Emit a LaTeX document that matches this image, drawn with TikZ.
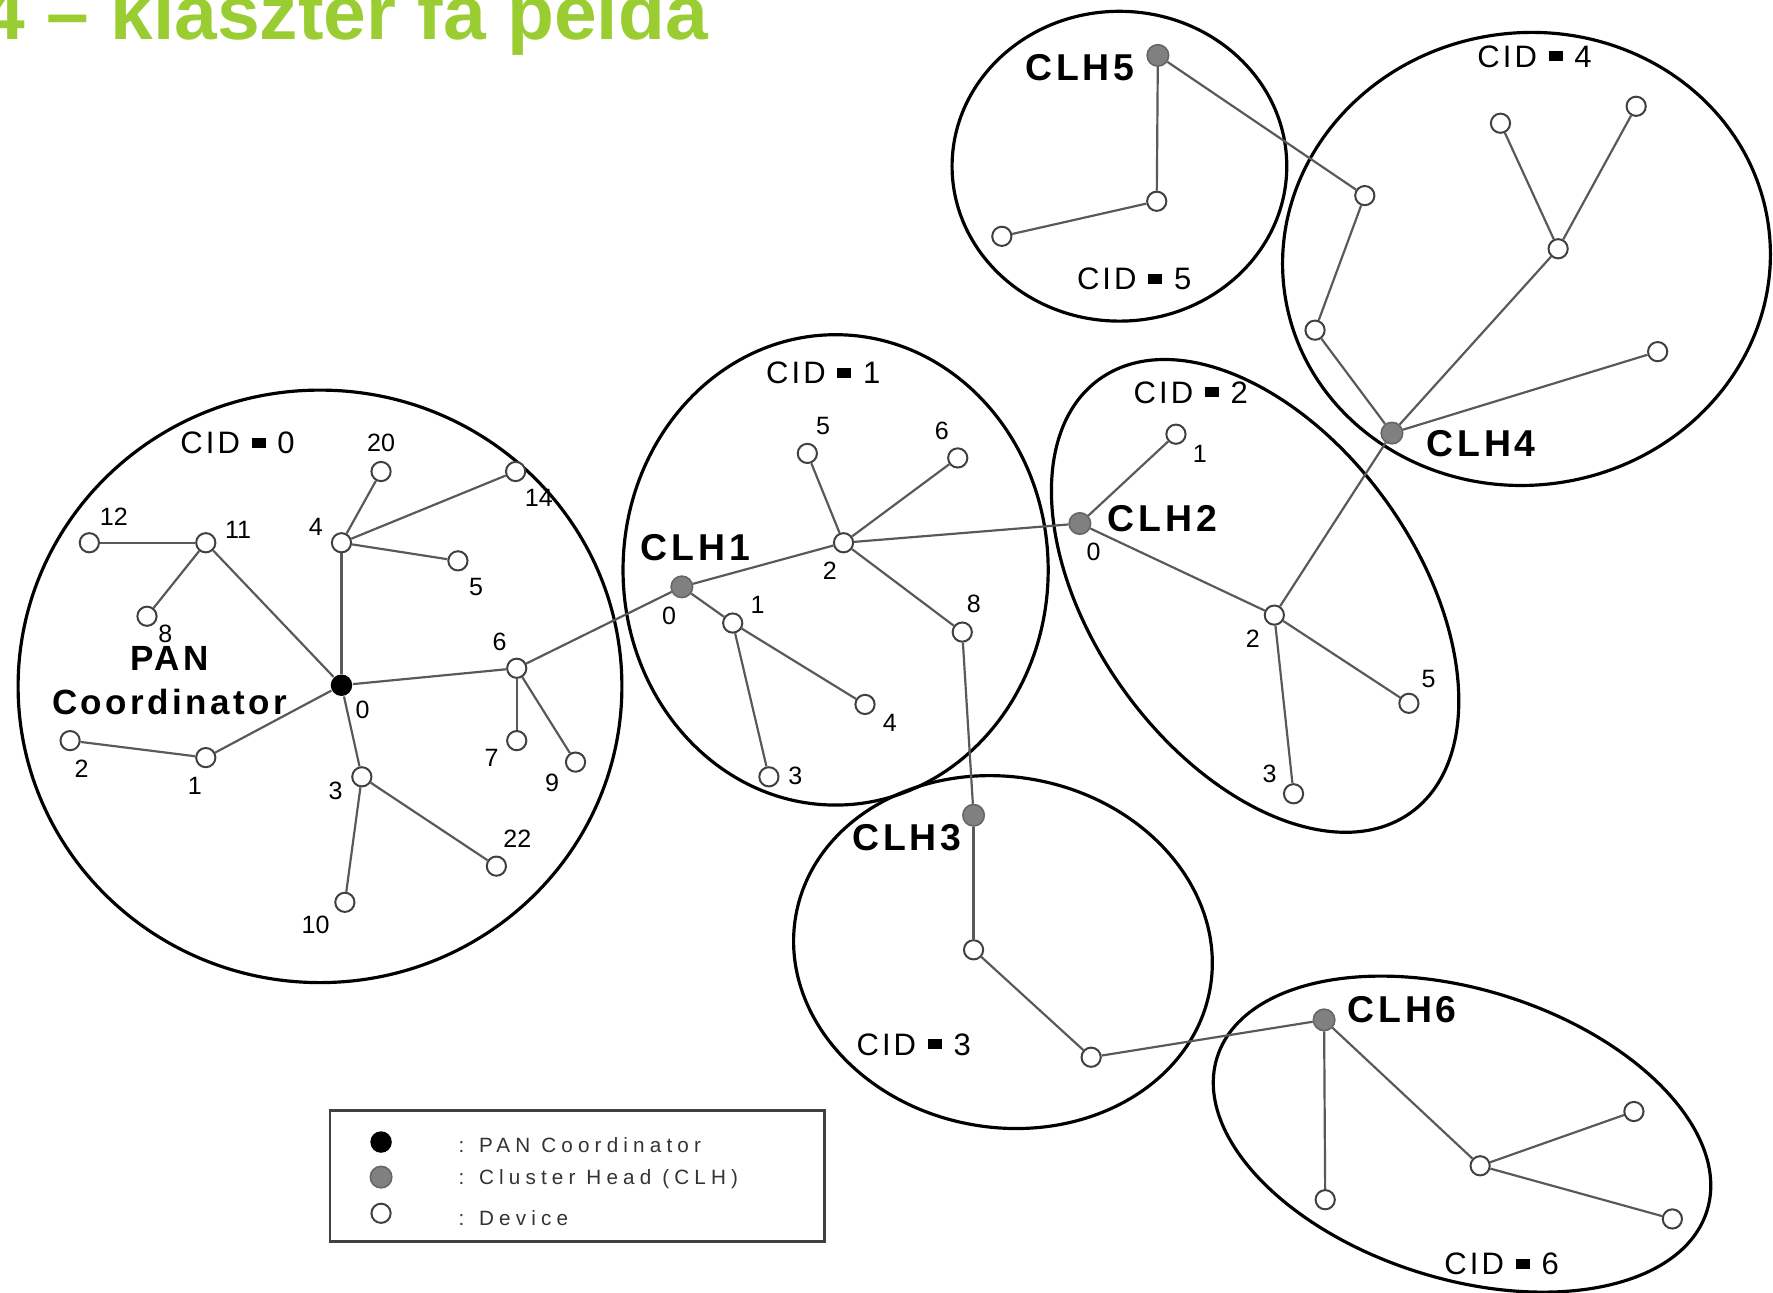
\documentclass[tikz,border=0pt]{standalone}
\usepackage{fontspec}
\setmainfont{Liberation Sans}
\newfontfamily\spacedfont[LetterSpace=10]{Liberation Sans}
\newfontfamily\widefont[LetterSpace=25]{Liberation Sans}
\definecolor{titlegreen}{RGB}{154,205,50}
\definecolor{clhgray}{RGB}{128,128,128}
\newcommand{\cideq}{\rule[0.2em]{0.45em}{0.32em}}

\begin{document}
\begin{tikzpicture}[x=0.01cm, y=-0.01cm,
    dev/.style={circle, draw=black!75, fill=white, line width=0.5pt, minimum size=0.17cm, inner sep=0pt},
    clh/.style={circle, draw=black!60, fill=clhgray, line width=0.4pt, minimum size=0.19cm, inner sep=0pt},
    pan/.style={circle, fill=black, minimum size=0.19cm, inner sep=0pt},
    num/.style={font=\fontsize{6.3}{7}\selectfont, inner sep=0.5pt},
    cid/.style={font=\spacedfont\fontsize{7.8}{9}\selectfont, inner sep=0pt},
    head/.style={font=\spacedfont\bfseries\fontsize{9.4}{11}\selectfont, inner sep=0pt},
    keytext/.style={font=\widefont\fontsize{5.2}{6}\selectfont, text=black!80, anchor=west, inner sep=0pt},
    link/.style={draw=black!65, line width=0.55pt},
    cluster/.style={draw=black, line width=0.8pt},
    every label/.style={num}, label distance=1.5pt]
    \useasboundingbox (0,0) rectangle (1568,1143);
    \node[anchor=base west, inner sep=0pt, text=titlegreen, font=\bfseries\fontsize{19.3}{22}\selectfont] (title) at (-16,35) {4 – klaszter fa példa};

    \draw[cluster] (283,607) ellipse (267 and 262);
    \draw[cluster] (739,504) ellipse (188 and 208);
    \draw[cluster, rotate around={35.7:(1110,527)}] (1110,527) ellipse (143 and 236);
    \draw[cluster, rotate around={8:(1350,229)}] (1350,229) ellipse (216 and 200);
    \draw[cluster] (990,147) ellipse (148 and 137);
    \draw[cluster, rotate around={-10:(887,842)}] (887,842) ellipse (186 and 155);
    \draw[cluster, rotate around={-17.4:(1293,1003)}] (1293,1003) ellipse (227 and 128);

    \node[cid] (cid0) at (210,392) {CID \cideq{} 0};
    \node[cid] (cid1) at (728,330) {CID \cideq{} 1};
    \node[cid] (cid2) at (1053,347) {CID \cideq{} 2};
    \node[cid] (cid3) at (808,924) {CID \cideq{} 3};
    \node[cid] (cid4) at (1357,50) {CID \cideq{} 4};
    \node[cid] (cid5) at (1003,247) {CID \cideq{} 5};
    \node[cid] (cid6) at (1328,1118) {CID \cideq{} 6};

    \node[head, align=center, font=\spacedfont\bfseries\fontsize{8.8}{11}\selectfont] (pantext) at (150,602) {PAN\\Coordinator};
    \node[head] (clh1text) at (615,484) {CLH1};
    \node[head] (clh2text) at (1028,459) {CLH2};
    \node[head] (clh3text) at (802,741) {CLH3};
    \node[head] (clh4text) at (1310,392) {CLH4};
    \node[head] (clh5text) at (955,60) {CLH5};
    \node[head] (clh6text) at (1240,893) {CLH6};

    % cluster 0
    \node[pan, label={-50:0}] (pan) at (302,606) {};
    \node[dev, label={5:11}] (a11) at (182,480) {};
    \node[dev, label={62:12}] (a12) at (79,480) {};
    \node[dev, label={[label distance=0pt]-35:8}] (a8) at (130,545) {};
    \node[dev, label={165:4}] (a4) at (302,480) {};
    \node[dev, label={90:20}] (a20) at (337,417) {};
    \node[dev, label={-67:14}] (a14) at (456,417) {};
    \node[dev, label={-60:5}] (a5) at (405,496) {};
    \node[dev, label={117:6}] (a6) at (457,591) {};
    \node[dev, label={201:7}] (a7) at (457,655) {};
    \node[dev, label={-146:9}] (a9) at (509,674) {};
    \node[dev, label={187:3}] (a3) at (320,687) {};
    \node[dev, label={75:22}] (a22) at (439,766) {};
    \node[dev, label={-139:10}] (a10) at (305,798) {};
    \node[dev, label={-94:1}] (a1) at (182,670) {};
    \node[dev, label={-84:2}] (a2) at (62,655) {};

    % cluster 1
    \node[clh, label={-100:0}] (clh1) at (603,519) {};
    \node[dev, label={25:1}] (b1) at (648,551) {};
    \node[dev, label={-25:4}] (b4) at (765,623) {};
    \node[dev, label={2:3}] (b3) at (680,687) {};
    \node[dev, label={-104:2}] (b2) at (746,480) {};
    \node[dev, label={69:5}] (b5) at (714,401) {};
    \node[dev, label={112:6}] (b6) at (847,405) {};
    \node[dev, label={84:8}] (b8) at (851,559) {};

    % cluster 2
    \node[clh, label={-77:0}] (clh2) at (955,463) {};
    \node[dev, label={-31:1}] (c1) at (1040,384) {};
    \node[dev, label={-135:2}] (c2) at (1127,544) {};
    \node[dev, label={53:5}] (c5) at (1246,622) {};
    \node[dev, label={149:3}] (c3) at (1144,702) {};

    % cluster 4
    \node[clh] (clh4) at (1231,383) {};
    \node[dev] (d1) at (1163,292) {};
    \node[dev] (d2) at (1207,173) {};
    \node[dev] (d3) at (1378,220) {};
    \node[dev] (d4) at (1327,109) {};
    \node[dev] (d5) at (1447,94) {};
    \node[dev] (d6) at (1466,311) {};

    % cluster 5
    \node[clh] (clh5) at (1024,49) {};
    \node[dev] (e1) at (1023,178) {};
    \node[dev] (e2) at (886,209) {};

    % cluster 3
    \node[clh] (clh3) at (861,721) {};
    \node[dev] (f1) at (861,840) {};
    \node[dev] (f2) at (965,935) {};

    % cluster 6
    \node[clh] (clh6) at (1171,902) {};
    \node[dev] (g1) at (1172,1061) {};
    \node[dev] (g2) at (1309,1031) {};
    \node[dev] (g3) at (1445,983) {};
    \node[dev] (g4) at (1479,1078) {};

    \draw[link] (pan) -- (a11);
    \draw[link] (a11) -- (a12);
    \draw[link] (a11) -- (a8);
    \draw[link] (pan) -- (a4);
    \draw[link] (a4) -- (a20);
    \draw[link] (a4) -- (a14);
    \draw[link] (a4) -- (a5);
    \draw[link] (pan) -- (a6);
    \draw[link] (a6) -- (a7);
    \draw[link] (a6) -- (a9);
    \draw[link] (pan) -- (a3);
    \draw[link] (a3) -- (a22);
    \draw[link] (a3) -- (a10);
    \draw[link] (pan) -- (a1);
    \draw[link] (a1) -- (a2);
    \draw[link] (a6) -- (clh1);
    \draw[link] (clh1) -- (b1);
    \draw[link] (b1) -- (b4);
    \draw[link] (b1) -- (b3);
    \draw[link] (clh1) -- (b2);
    \draw[link] (b2) -- (b5);
    \draw[link] (b2) -- (b6);
    \draw[link] (b2) -- (b8);
    \draw[link] (b2) -- (clh2);
    \draw[link] (b8) -- (clh3);
    \draw[link] (clh2) -- (c1);
    \draw[link] (clh2) -- (c2);
    \draw[link] (c2) -- (c5);
    \draw[link] (c2) -- (c3);
    \draw[link] (c2) -- (clh4);
    \draw[link] (clh4) -- (d1);
    \draw[link] (d1) -- (d2);
    \draw[link] (d2) -- (clh5);
    \draw[link] (clh4) -- (d3);
    \draw[link] (d3) -- (d4);
    \draw[link] (d3) -- (d5);
    \draw[link] (clh4) -- (d6);
    \draw[link] (clh5) -- (e1);
    \draw[link] (e1) -- (e2);
    \draw[link] (clh3) -- (f1);
    \draw[link] (f1) -- (f2);
    \draw[link] (f2) -- (clh6);
    \draw[link] (clh6) -- (g1);
    \draw[link] (clh6) -- (g2);
    \draw[link] (g2) -- (g3);
    \draw[link] (g2) -- (g4);

    % key
    \draw[draw=black!75, line width=0.6pt] (292,982) rectangle (729,1098);
    \node[pan] (keypan) at (337,1010) {};
    \node[clh] (keyclh) at (337,1041) {};
    \node[dev] (keydev) at (337,1073) {};
    \node[keytext] (keypantext) at (405,1013) {: PAN Coordinator};
    \node[keytext] (keyclhtext) at (405,1043) {: Cluster Head (CLH)};
    \node[keytext] (keydevtext) at (405,1077) {: Device};
\end{tikzpicture}
\end{document}
